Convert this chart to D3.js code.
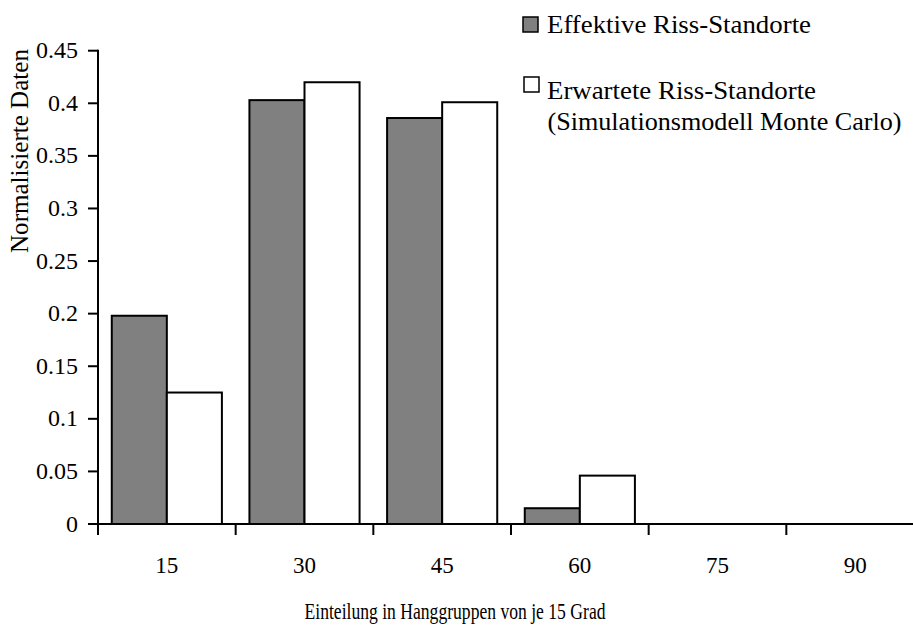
<!DOCTYPE html>
<html>
<head>
<meta charset="utf-8">
<script src="https://cdn.jsdelivr.net/npm/d3@7"></script>
<style>
  html, body { margin: 0; padding: 0; background: #fff; }
  svg { display: block; }
  text { font-family: "Liberation Serif", "Times New Roman", serif; fill: #000; }
</style>
</head>
<body>
<svg id="chart" width="913" height="626"></svg>
<script>
// Slope classes (degrees) and normalised crack-location frequencies
const categories = ["15", "30", "45", "60", "75", "90"];
const effektive = [0.198, 0.403, 0.386, 0.015, 0, 0];
const erwartete = [0.125, 0.420, 0.401, 0.046, 0, 0];
const yTicks = [0, 0.05, 0.1, 0.15, 0.2, 0.25, 0.3, 0.35, 0.4, 0.45];
const seriesNames = ["Effektive Riss-Standorte", "Erwartete Riss-Standorte"];
const seriesNote = "(Simulationsmodell Monte Carlo)";
const xTitle = "Einteilung in Hanggruppen von je 15 Grad";
const yTitle = "Normalisierte Daten";

const svg = d3.select("#chart");
const plotLeft = 98, plotRight = 924, plotTop = 50.7, plotBottom = 524;

const x = d3.scaleBand().domain(categories).range([plotLeft, plotRight])
  .paddingInner(0.2).paddingOuter(0.1);
const step = x.step();
const y = d3.scaleLinear().domain([0, 0.45]).range([plotBottom, plotTop]);
const sub = d3.scaleBand().domain([0, 1]).range([0, x.bandwidth()]);

const fills = ["#808080", "#ffffff"];
const rows = categories.map((c, i) => ({ c, v: [effektive[i], erwartete[i]] }));

// bars
const g = svg.append("g");
rows.forEach(r => {
  r.v.forEach((v, k) => {
    if (v <= 0) return;
    g.append("rect")
      .attr("x", x(r.c) + sub(k))
      .attr("y", y(v))
      .attr("width", sub.bandwidth())
      .attr("height", y(0) - y(v))
      .attr("fill", fills[k])
      .attr("stroke", "#000")
      .attr("stroke-width", 2);
  });
});

// y axis
const yAxis = svg.append("g");
yAxis.append("line").attr("x1", plotLeft).attr("x2", plotLeft)
  .attr("y1", y(0.45) - 1).attr("y2", y(0) + 1)
  .attr("stroke", "#000").attr("stroke-width", 2);
yTicks.forEach(t => {
  yAxis.append("line").attr("x1", plotLeft - 10).attr("x2", plotLeft)
    .attr("y1", y(t)).attr("y2", y(t))
    .attr("stroke", "#000").attr("stroke-width", 2);
  yAxis.append("text").attr("x", 78).attr("y", y(t) + 7.5)
    .attr("text-anchor", "end").attr("font-size", 24)
    .text(String(+t.toFixed(2)));
});

// x axis
const xAxis = svg.append("g");
xAxis.append("line").attr("x1", plotLeft - 1).attr("x2", 913)
  .attr("y1", plotBottom).attr("y2", plotBottom)
  .attr("stroke", "#000").attr("stroke-width", 2);
d3.range(categories.length + 1).forEach(i => {
  const px = plotLeft + i * step;
  xAxis.append("line").attr("x1", px).attr("x2", px)
    .attr("y1", plotBottom).attr("y2", plotBottom + 11)
    .attr("stroke", "#000").attr("stroke-width", 2);
});
categories.forEach(c => {
  xAxis.append("text").attr("x", x(c) + x.bandwidth() / 2).attr("y", 573)
    .attr("text-anchor", "middle").attr("font-size", 23).text(c);
});

// axis titles
svg.append("text").attr("x", 455).attr("y", 619)
  .attr("text-anchor", "middle").attr("font-size", 23)
  .attr("textLength", 301).attr("lengthAdjust", "spacingAndGlyphs")
  .text(xTitle);
svg.append("text").attr("transform", "translate(28,151) rotate(-90)")
  .attr("text-anchor", "middle").attr("font-size", 25)
  .attr("textLength", 204).attr("lengthAdjust", "spacingAndGlyphs")
  .text(yTitle);

// legend
const legend = svg.append("g");
const legendRows = [
  { box: [523, 17], lines: [[seriesNames[0], 547, 33, 264]] },
  { box: [524, 77], lines: [[seriesNames[1], 547, 99, 269], [seriesNote, 547.5, 130, 354]] }
];
legendRows.forEach((r, k) => {
  legend.append("rect").attr("x", r.box[0]).attr("y", r.box[1])
    .attr("width", 15).attr("height", 15)
    .attr("fill", fills[k]).attr("stroke", "#000").attr("stroke-width", 1.5);
  r.lines.forEach(([t, tx, ty, len]) => {
    legend.append("text").attr("x", tx).attr("y", ty)
      .attr("font-size", 25.5)
      .attr("textLength", len).attr("lengthAdjust", "spacingAndGlyphs")
      .text(t);
  });
});
</script>
</body>
</html>
